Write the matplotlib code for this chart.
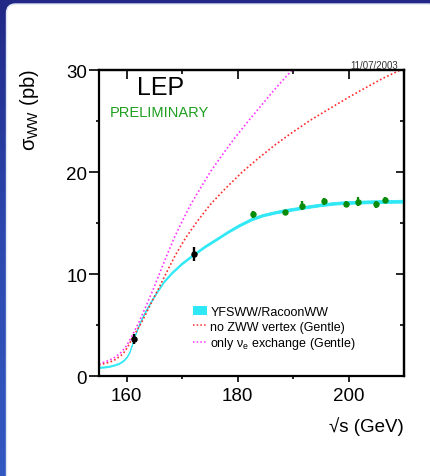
import numpy as np
import matplotlib
matplotlib.use('Agg')
import matplotlib.pyplot as plt
from matplotlib.patches import FancyBboxPatch, Patch
from matplotlib.lines import Line2D
from matplotlib.colors import LinearSegmentedColormap
from matplotlib.ticker import FixedLocator

plt.rcParams['font.family'] = ['Liberation Sans', 'DejaVu Sans']
plt.rcParams['mathtext.fontset'] = 'custom'
plt.rcParams['mathtext.rm'] = 'Liberation Sans'
plt.rcParams['mathtext.it'] = 'Liberation Sans:italic'

# ---------------- data ----------------
# YFSWW/RacoonWW prediction (band centre and half width)
e_sm = [155, 156, 157, 158, 158.5, 159, 159.5, 160, 160.5, 161, 161.5, 162, 162.4,
        163.1, 163.8, 164.6, 165.4, 166.7, 168.1, 169.9, 171.7, 174, 176.2, 178.2,
        180.1, 182.5, 184.5, 186.7, 188.5, 190.3, 192.5, 195, 197.5, 200, 203, 206, 210]
sig_sm = [0.88, 0.92, 1.0, 1.15, 1.25, 1.4, 1.6, 1.9, 2.4, 3.2, 4.05, 4.75, 5.3,
          6.1, 6.8, 7.55, 8.25, 9.3, 10.15, 11.05, 11.8, 12.7, 13.45, 14.15,
          14.75, 15.4, 15.78, 16.06, 16.25, 16.4, 16.6, 16.8, 16.95, 17.03, 17.08, 17.12, 17.15]
band_hw = [0.06, 0.06, 0.06, 0.06, 0.06, 0.06, 0.06, 0.06, 0.07, 0.07, 0.07, 0.07, 0.07,
           0.08, 0.08, 0.08, 0.09, 0.09, 0.1, 0.1, 0.1, 0.11, 0.11, 0.11,
           0.12, 0.12, 0.12, 0.12, 0.13, 0.13, 0.13, 0.13, 0.13, 0.14, 0.14, 0.14, 0.14]

# no ZWW vertex (Gentle)
e_nozww = [155, 157, 158, 159, 159.7, 160.3, 161.2, 162.7, 164.2, 165.7, 167.2, 168.7,
           170.6, 172.6, 175.1, 177.7, 180.7, 183.7, 186.8, 190, 193, 196.5, 200.2,
           203, 206.2, 209.3, 210]
sig_nozww = [1.1, 1.4, 1.65, 2.05, 2.45, 3.0, 3.9, 5.3, 6.95, 8.55, 10.2, 11.8,
             13.55, 15.1, 16.85, 18.35, 19.95, 21.35, 22.7, 23.95, 25.05, 26.2, 27.4,
             28.25, 29.2, 30.0, 30.2]

# only nu_e exchange (Gentle)
e_nue = [155, 157, 158, 159, 160, 161, 162.2, 163.5, 164.8, 166, 167.2, 168.5,
         169.9, 171.5, 173.2, 175.1, 177.1, 179.4, 181.9, 184.2, 186.5, 188.2,
         189.8, 191]
sig_nue = [1.2, 1.6, 1.9, 2.35, 3.0, 4.0, 5.3, 6.9, 8.55, 10.2, 11.8, 13.5,
           15.08, 16.8, 18.35, 20.05, 21.6, 23.3, 25.0, 26.5, 28.0, 29.05,
           30.0, 30.7]

# LEP measurements
e_black = [161.3, 172.1]
sig_black = [3.65, 12.0]
err_black = [0.45, 0.7]

e_green = [182.7, 188.6, 191.6, 195.5, 199.5, 201.6, 204.9, 206.6]
sig_green = [15.85, 16.05, 16.7, 17.15, 16.9, 17.1, 16.83, 17.25]
err_green = [0.38, 0.2, 0.45, 0.35, 0.3, 0.42, 0.3, 0.28]

xticks_major = [160, 180, 200]
xticks_minor = [170, 190]
yticks_major = [0, 10, 20, 30]
yticks_minor = [5, 15, 25]

# ---------------- figure ----------------
W, H = 431, 477
fig = plt.figure(figsize=(W / 100, H / 100), dpi=100)

bg = fig.add_axes([0, 0, 1, 1])
bg.set_axis_off()
grad = np.linspace(0, 1, 256).reshape(-1, 1)
cmap = LinearSegmentedColormap.from_list('bg', ['#212886', '#2c48b0', '#3258c2'])
bg.imshow(grad, cmap=cmap, aspect='auto', extent=[0, W, H, 0])
bg.add_patch(FancyBboxPatch((6.5, 5), W, H + 20,
                            boxstyle='round,pad=0,rounding_size=9',
                            facecolor='white', edgecolor='#dfe6f5', lw=1))
bg.set_xlim(0, W)
bg.set_ylim(H, 0)

L, R, T, B = 98.95, 404.3, 71, 377.3
ax = fig.add_axes([L / W, (H - B) / H, (R - L) / W, (B - T) / H])

cyan = '#2ee8f6'
lo = np.array(sig_sm) - np.array(band_hw)
hi = np.array(sig_sm) + np.array(band_hw)
ax.fill_between(e_sm, lo, hi, color=cyan, lw=0.6, edgecolor=cyan)
dot = (0, (1.0, 1.4))
ax.plot(e_nozww, sig_nozww, color='#ff2a2a', lw=1.2, ls=dot)
ax.plot(e_nue, sig_nue, color='#ff33ff', lw=1.2, ls=dot)

ax.errorbar(e_black, sig_black, yerr=err_black, fmt='o', color='black', ms=3.6,
            elinewidth=1.7, capsize=0, zorder=5)
ax.errorbar(e_green, sig_green, yerr=err_green, fmt='o', color='#0a8c0a', ms=3.6,
            elinewidth=1.7, capsize=0, zorder=5)

ax.set_xlim(155, 210)
ax.set_ylim(0, 30)
ax.xaxis.set_major_locator(FixedLocator(xticks_major))
ax.xaxis.set_minor_locator(FixedLocator(xticks_minor))
ax.yaxis.set_major_locator(FixedLocator(yticks_major))
ax.yaxis.set_minor_locator(FixedLocator(yticks_minor))
for s in ax.spines.values():
    s.set_linewidth(1.6)
ax.tick_params(axis='y', which='major', direction='out', length=7.5, width=1.2,
               labelsize=13.5, pad=1)
ax.tick_params(axis='y', which='minor', direction='out', length=2.5, width=1.2)
ax.tick_params(axis='x', which='major', direction='out', length=4.5, width=1.2,
               labelsize=13.5, pad=3.5)
ax.tick_params(axis='x', which='minor', direction='out', length=2.5, width=1.2)

sx = ax.secondary_xaxis('top')
sx.xaxis.set_major_locator(FixedLocator(xticks_major))
sx.xaxis.set_minor_locator(FixedLocator(xticks_minor))
sx.tick_params(which='major', direction='in', length=6.5, width=1.2, labeltop=False)
sx.tick_params(which='minor', direction='in', length=3, width=1.2)
sx.spines['top'].set_linewidth(1.6)

sy = ax.secondary_yaxis('right')
sy.yaxis.set_major_locator(FixedLocator(yticks_major))
sy.yaxis.set_minor_locator(FixedLocator(yticks_minor))
sy.tick_params(which='major', direction='in', length=6, width=1.2, labelright=False)
sy.tick_params(which='minor', direction='in', length=3, width=1.2)
sy.spines['right'].set_linewidth(1.6)

handles = [Patch(facecolor=cyan, edgecolor='none'),
           Line2D([], [], color='#ff2a2a', lw=1.1, ls=dot),
           Line2D([], [], color='#ff33ff', lw=1.1, ls=dot)]
labels = ['YFSWW/RacoonWW', 'no ZWW vertex (Gentle)',
          r'only ν$_{\rm e}$ exchange (Gentle)']
ax.legend(handles, labels, loc='upper left',
          bbox_to_anchor=((193 - L) / (R - L), (B - 307) / (B - T)),
          frameon=False, fontsize=9, handlelength=1.15, handleheight=0.65,
          handletextpad=0.25, labelspacing=0.22, borderpad=0, borderaxespad=0)

def fx(px):
    return px / W

def fy(py):
    return (H - py) / H

fig.text(fx(137), fy(95), 'LEP', fontsize=18, va='baseline', ha='left')
fig.text(fx(110), fy(117.3), 'PRELIMINARY', fontsize=10.5, color='#1f9f1f',
         va='baseline', ha='left')
fig.text(fx(398), fy(69.3), '11/07/2003', fontsize=7, color='#333333',
         va='baseline', ha='right')
fig.text(fx(404), fy(417), '√s (GeV)', fontsize=13.5, va='top', ha='right')
fig.text(fx(30), fy(69), r'σ$_{\rm WW}$ (pb)', fontsize=14.5, rotation=90,
         va='top', ha='center')

fig.savefig('out.png', dpi=100)
